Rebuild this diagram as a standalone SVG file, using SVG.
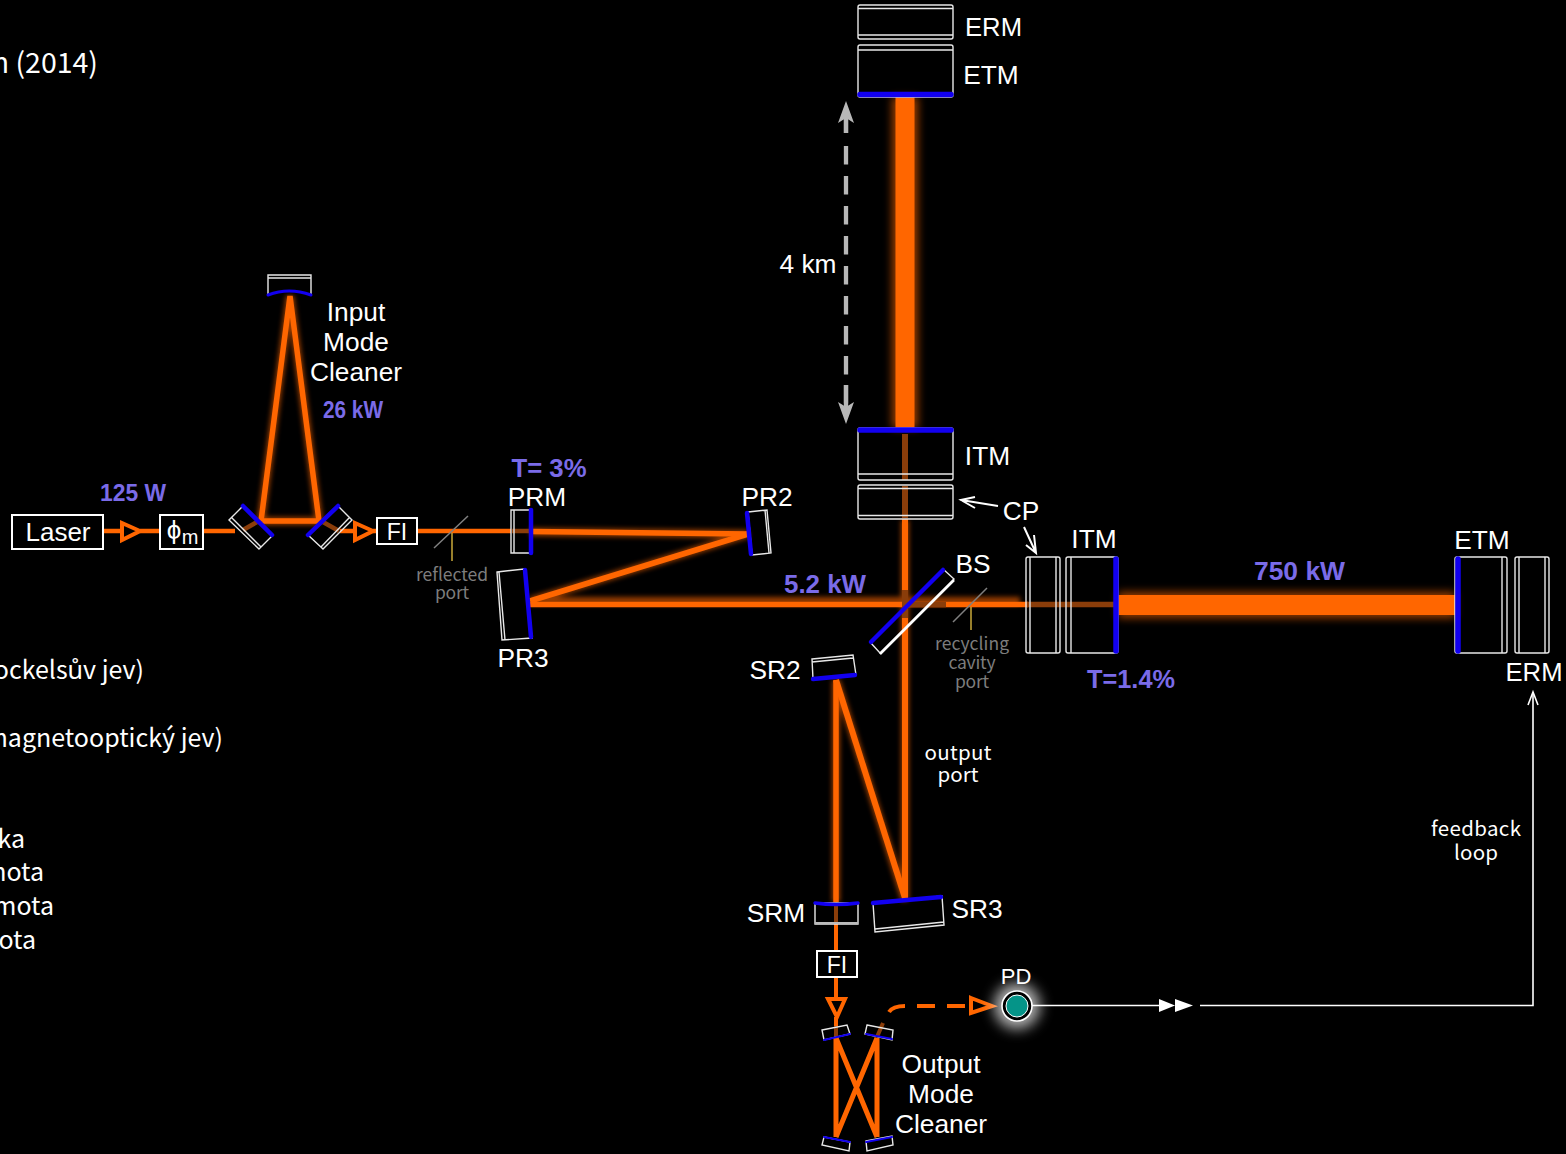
<svg xmlns="http://www.w3.org/2000/svg" width="1566" height="1154" viewBox="0 0 1566 1154">
<defs>
<filter id="pdglow" filterUnits="userSpaceOnUse" x="950" y="940" width="135" height="135"><feGaussianBlur stdDeviation="7"/></filter>
<filter id="big" filterUnits="userSpaceOnUse" x="0" y="0" width="1566" height="1154"><feGaussianBlur stdDeviation="4"/></filter>
<filter id="thin" filterUnits="userSpaceOnUse" x="0" y="0" width="1566" height="1154"><feGaussianBlur stdDeviation="2.500"/></filter>
</defs>
<style>
text{font-family:"Liberation Sans",Arial,sans-serif;fill:#fff;text-anchor:middle}
.l{font-size:26.3px}
.p{font-weight:bold;font-size:25px;fill:#7a6be8}
.g{font-family:"Noto Sans CJK SC","Noto Sans",sans-serif;font-size:17.500px;fill:#7d7d7d}
.w{font-family:"Noto Sans CJK SC","Noto Sans",sans-serif;font-size:20.500px;fill:#fff}
.c{font-family:"Noto Sans CJK SC","Noto Sans",sans-serif;font-size:25px;fill:#fff;text-anchor:end}
.b{fill:none;stroke:#ff6600}
.m{fill:none;stroke:#e8e8e8;stroke-width:1.4}
.blue{fill:none;stroke:#1200f0;stroke-linecap:round}
.dim{stroke:#8a3d0a;fill:none}
.tri{fill:none;stroke:#ff6600;stroke-width:4}
.box{fill:#000;stroke:#fff;stroke-width:2}
</style>
<rect width="1566" height="1154" fill="#000"/>

<g id="side-text">
<text class="c" x="98" y="73" style="font-size:28.500px">n (2014)</text>
<text class="c" x="144" y="679">Pockelsův jev)</text>
<text class="c" x="223" y="747">magnetooptický jev)</text>
<text class="c" x="25" y="848">ka</text>
<text class="c" x="44" y="881">nota</text>
<text class="c" x="54" y="915">mota</text>
<text class="c" x="36" y="949">ota</text>
</g>

<g id="connectors">
<g filter="url(#big)" opacity="0.6">
<path class="b" stroke-width="26" d="M905 97V428"/>
<path class="b" stroke-width="26" d="M1118 605H1455"/>
</g>
<g filter="url(#thin)" opacity="0.6">
<path class="b" stroke-width="8" d="M261 521H319M261 521L290 296L319 521"/>
<path class="b" stroke-width="8" d="M530 532L748 534L530 601H1020M836 680V902M836 680L905 900V520"/>
</g>
<path class="b" stroke-width="19" d="M905 97V428"/>
<path class="b" stroke-width="20" d="M1118 605H1455"/>
<path class="b" stroke-width="5.500" d="M261 521H319M261 521L290 296L319 521"/>
<path class="b" stroke-width="4.500" d="M103 531H122M140 531H160M204 531H235M340 531H355M373 531H377M418 531H511"/>
<path class="b" stroke-width="5.500" d="M532 531.500L748 534"/>
<path class="b" stroke-width="5.500" d="M748 534L530 601"/>
<path class="b" stroke-width="5.500" d="M530 604.500H1028"/>
<path class="b" stroke-width="6" d="M905 519V900"/>
<path class="b" stroke-width="5.500" d="M836 680V902"/>
<path class="b" stroke-width="6" d="M836 680L905 898"/>
<path class="b" stroke-width="4" d="M836 924V951M836 977V998M836 1017V1030"/>
<path class="b" stroke-width="5" d="M836 1038V1137M877 1038V1137M836 1038L877 1137M877 1038L836 1137"/>
<path class="b" stroke-width="4" d="M889 1012Q893 1006 905 1006M917 1006H935M947 1006H965"/>
<path class="dim" stroke-width="6" d="M905 434V480M905 486V518M905 590V618"/>
<path class="dim" stroke-width="5.500" d="M908 604.500H946M1027 604.500H1116"/>
<path class="dim" stroke-width="4.500" d="M243 530L257 522M323 522L339 531"/>
<path class="dim" stroke-width="4.500" d="M512 531H530"/>
<path class="dim" stroke-width="4" d="M836 905V923M836 1026V1037M877 1037L883 1023"/>
<path class="tri" d="M122 523L140 531L122 540Z"/>
<path class="tri" d="M355 523L373 531L355 540Z"/>
<path class="tri" d="M828 999H845L837 1017Z"/>
<path class="tri" d="M971 998L992 1006L971 1013Z"/>
<path d="M1031 1005.500H1165" stroke="#fff" stroke-width="1.600"/>
<path d="M1159 999L1175 1005.500L1159 1012ZM1175 999L1193 1005.500L1175 1012Z" fill="#fff"/>
<path d="M1200 1005.500H1533V693" fill="none" stroke="#fff" stroke-width="1.600"/>
<path d="M1528 705L1533 692L1538 705" fill="none" stroke="#fff" stroke-width="1.600"/>
<path d="M998 506L961 500M975 497L961 500L975 508" fill="none" stroke="#fff" stroke-width="2"/>
<path d="M1024 527L1036 553M1034 535L1036 553L1026 545" fill="none" stroke="#fff" stroke-width="2"/>
<path d="M846 115V133M846 146V375M846 385V410" fill="none" stroke="#b8b8b8" stroke-width="4.300" stroke-dasharray="18.500 11.500"/>
<path d="M846 115V133M846 385V410" fill="none" stroke="#b8b8b8" stroke-width="4.300"/>
<path d="M838 123L846 101L854 123L846 118ZM838 402L846 424L854 402L846 407Z" fill="#b8b8b8"/>
<path d="M434 548L468 516M953 622L987 588" stroke="#808080" stroke-width="1.500"/>
<path d="M452 533V561M971 607V630" stroke="#c9a93a" stroke-width="1.500"/>
</g>

<g id="laser"><rect class="box" x="12" y="515" width="91" height="34"/><text x="58" y="541" style="font-size:26px">Laser</text></g>
<g id="phi"><rect class="box" x="160" y="515" width="43" height="34"/><text x="174" y="539" style="font-size:26px">ϕ</text><text x="190" y="544" style="font-size:20px">m</text></g>
<g id="fi1"><rect class="box" x="377" y="518" width="40" height="26"/><text x="397" y="540" style="font-size:23px">FI</text></g>
<g id="fi2"><rect class="box" x="817" y="951" width="40" height="26"/><text x="837" y="973" style="font-size:23px">FI</text></g>

<g id="imc-top"><path class="m" d="M268 295V275H311V295M268 278H311"/><path class="blue" stroke-width="3" d="M268 295Q289 287 311 295"/></g>
<g id="imc-left"><path class="m" d="M243 506L273 535L259 549L229 520ZM232 518L261 547"/><path class="blue" stroke-width="4.500" d="M243 506L272 535"/></g>
<g id="imc-right"><path class="m" d="M338 506L352 520L323 549L308 535ZM349 518L321 547"/><path class="blue" stroke-width="4.500" d="M308 535L338 506"/></g>

<g id="prm"><path class="m" d="M511 510H532V553H511ZM514 510V553"/><path class="blue" stroke-width="4.500" d="M531 510V553"/><text class="l" x="537" y="506">PRM</text></g>
<g id="pr2"><path class="m" d="M748 512L767 510L771 553L752 555ZM765 510L769 553"/><path class="blue" stroke-width="4.500" d="M747 513L751 554"/><text class="l" x="767" y="506">PR2</text></g>
<g id="pr3"><path class="m" d="M497 572L524 569L532 638L502 640ZM499 572L505 640"/><path class="blue" stroke-width="4.500" d="M525 570L531 637"/><text class="l" x="523" y="667">PR3</text></g>
<g id="bs"><path class="m" d="M943 569L954 579L880 653L870 642Z" stroke-width="2"/><path d="M954 580L880 654" stroke="#fff" stroke-width="2.500"/><path class="blue" stroke-width="4.500" d="M943 570L871 642"/><text class="l" x="973" y="572.500">BS</text></g>
<g id="sr2"><path class="m" d="M812 659L853 655L856 675L813 679ZM812 662L853 658"/><path class="blue" stroke-width="4.500" d="M813 679L855 675"/><text class="l" x="775" y="679">SR2</text></g>
<g id="sr3"><path class="m" d="M873 903L942 896L944 925L875 932ZM875 929L944 922"/><path class="blue" stroke-width="4.500" d="M873 903L941 897"/><text class="l" x="977" y="918">SR3</text></g>
<g id="srm"><path class="m" d="M815 903H858V924H815Z"/><path d="M815 923H858" stroke="#bbb" stroke-width="2"/><path class="blue" stroke-width="3.500" d="M815 903Q836 906 858 903"/><text class="l" x="776" y="922">SRM</text></g>

<g id="omc1"><path class="m" d="M822 1030L847 1025L850 1034L824 1040Z"/><path class="blue" stroke-width="2" d="M824 1040L850 1034"/></g>
<g id="omc2"><path class="m" d="M867 1025L893 1030L892 1040L865 1034Z"/><path class="blue" stroke-width="2" d="M866 1034L892 1039"/></g>
<g id="omc3"><path class="m" d="M824 1137L850 1142L849 1151L822 1145Z"/><path class="blue" stroke-width="2" d="M824 1137L850 1142"/></g>
<g id="omc4"><path class="m" d="M866 1141L892 1136L893 1145L867 1151Z"/><path class="blue" stroke-width="2" d="M866 1142L892 1137"/></g>

<g id="erm-top"><rect class="m" x="858" y="5" width="95" height="34" rx="2"/><path class="m" d="M858 8.500H953M858 35H953"/><text class="l" x="993.500" y="36" textLength="57" lengthAdjust="spacingAndGlyphs">ERM</text></g>
<g id="etm-top"><rect class="m" x="858" y="45" width="95" height="52" rx="2"/><path class="m" d="M858 50H953"/><path class="blue" stroke-width="5.500" d="M860 94.500H951"/><text class="l" x="991" y="84">ETM</text></g>
<g id="itm-top"><rect class="m" x="858" y="428" width="95" height="52" rx="2"/><path class="m" d="M858 474H953"/><path class="blue" stroke-width="5.500" d="M860 430H951"/><text class="l" x="987.500" y="465">ITM</text></g>
<g id="cp-top"><rect class="m" x="858" y="485" width="95" height="34" rx="2"/><path class="m" d="M858 488.500H953M858 515.500H953"/></g>
<g id="cp-label"><text class="l" x="1021" y="520">CP</text></g>
<g id="cp-right"><rect class="m" x="1026" y="557" width="34" height="96" rx="2"/><path class="m" d="M1030 557V653M1056 557V653"/></g>
<g id="itm-right"><rect class="m" x="1066" y="557" width="52" height="96" rx="2"/><path class="m" d="M1071 557V653"/><path class="blue" stroke-width="5.500" d="M1116 559V651"/><text class="l" x="1094" y="548">ITM</text></g>
<g id="etm-right"><rect class="m" x="1455" y="557" width="52" height="96" rx="2"/><path class="m" d="M1502 557V653"/><path class="blue" stroke-width="5.500" d="M1458 559V651"/><text class="l" x="1482" y="549">ETM</text></g>
<g id="erm-right"><rect class="m" x="1515" y="557" width="34" height="96" rx="2"/><path class="m" d="M1519 557V653M1545 557V653"/><text class="l" x="1534" y="681" textLength="57" lengthAdjust="spacingAndGlyphs">ERM</text></g>

<g id="pd">
<circle cx="1017" cy="1006" r="23" fill="#fff" opacity="0.7" filter="url(#pdglow)"/>
<circle cx="1017" cy="1006" r="15" fill="#000" stroke="#fff" stroke-width="1.600"/>
<circle cx="1017" cy="1006" r="11" fill="#059488" stroke="#fff" stroke-width="1"/>
<text x="1016" y="984" style="font-size:22px">PD</text>
</g>

<g id="labels">
<text class="l" x="356" y="321">Input</text><text class="l" x="356" y="351">Mode</text><text class="l" x="356" y="381">Cleaner</text>
<text class="l" x="941" y="1073">Output</text><text class="l" x="941" y="1103">Mode</text><text class="l" x="941" y="1133">Cleaner</text>
<text class="l" x="808" y="273">4 km</text>
<text class="p" x="133" y="501" textLength="66" lengthAdjust="spacingAndGlyphs" style="font-size:24px">125 W</text>
<text class="p" x="353" y="418" textLength="60" lengthAdjust="spacingAndGlyphs" style="font-size:23px">26 kW</text>
<text class="p" x="549" y="477" textLength="75" lengthAdjust="spacingAndGlyphs">T= 3%</text>
<text class="p" x="825" y="593" textLength="82" lengthAdjust="spacingAndGlyphs">5.2 kW</text>
<text class="p" x="1299.500" y="580" textLength="91" lengthAdjust="spacingAndGlyphs">750 kW</text>
<text class="p" x="1131" y="688" textLength="88" lengthAdjust="spacingAndGlyphs">T=1.4%</text>
<text class="g" x="452" y="581" textLength="72">reflected</text><text class="g" x="452" y="599" textLength="34">port</text>
<text class="g" x="972" y="650" textLength="74">recycling</text><text class="g" x="972" y="669" textLength="47">cavity</text><text class="g" x="972" y="688" textLength="34">port</text>
<text class="w" x="958" y="760" textLength="67">output</text><text class="w" x="958" y="782" textLength="41">port</text>
<text class="w" x="1476" y="836" textLength="90">feedback</text><text class="w" x="1476" y="860" textLength="44">loop</text>
</g>
</svg>
